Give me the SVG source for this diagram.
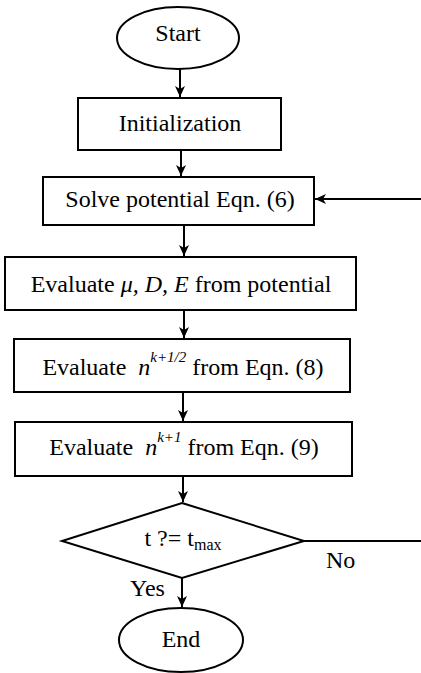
<svg xmlns="http://www.w3.org/2000/svg" width="421" height="673" viewBox="0 0 421 673" font-family="'Liberation Serif', 'Times New Roman', 'DejaVu Serif', serif">
<style>
.s{fill:#fff;stroke:#000;stroke-width:2}
.c{fill:none;stroke:#000;stroke-width:2}
text{font-family:'Liberation Serif','Times New Roman','DejaVu Serif',serif;font-size:24px;fill:#000}
.m{text-anchor:middle}
.i{font-style:italic}
</style>
<defs>
<marker id="ah" markerUnits="userSpaceOnUse" markerWidth="12" markerHeight="12" refX="11" refY="5.5" orient="auto">
<path d="M0,0.5 L11,5.5 L0,10.5 L3,5.5 z" fill="#000"/>
</marker>
</defs>
<g id="connectors">
<line class="c" x1="180" y1="69" x2="180" y2="97" marker-end="url(#ah)"/>
<line class="c" x1="181" y1="150" x2="181" y2="176" marker-end="url(#ah)"/>
<line class="c" x1="421" y1="199" x2="315" y2="199" marker-end="url(#ah)"/>
<line class="c" x1="184" y1="225" x2="184" y2="256" marker-end="url(#ah)"/>
<line class="c" x1="184" y1="310" x2="184" y2="338" marker-end="url(#ah)"/>
<line class="c" x1="183" y1="392" x2="183" y2="421" marker-end="url(#ah)"/>
<line class="c" x1="183" y1="476" x2="183" y2="502" marker-end="url(#ah)"/>
<line class="c" x1="304" y1="541" x2="421" y2="541"/>
<line class="c" x1="182" y1="578" x2="182" y2="607" marker-end="url(#ah)"/>
<text x="326" y="568">No</text>
<text x="130" y="596">Yes</text>
</g>
<g id="start">
<ellipse class="s" cx="178" cy="38" rx="61" ry="31"/>
<text class="m" x="178" y="41">Start</text>
</g>
<g id="init">
<rect class="s" x="78" y="98" width="203" height="52"/>
<text class="m" x="180" y="131">Initialization</text>
</g>
<g id="solve">
<rect class="s" x="43" y="177" width="271" height="48"/>
<text class="m" x="180" y="207">Solve potential Eqn. (6)</text>
</g>
<g id="evalmu">
<rect class="s" x="5" y="257" width="351" height="53"/>
<text class="m" x="181" y="292">Evaluate <tspan class="i">μ, D, E</tspan> from potential</text>
</g>
<g id="evalhalf">
<rect class="s" x="14" y="339" width="336" height="53"/>
<text class="m" x="183" y="375" xml:space="preserve">Evaluate  <tspan class="i">n</tspan><tspan class="i" font-size="15" dy="-13">k+1/2</tspan><tspan dy="13"> from Eqn. (8)</tspan></text>
</g>
<g id="evalfull">
<rect class="s" x="15" y="422" width="337" height="54"/>
<text class="m" x="184" y="455" xml:space="preserve">Evaluate  <tspan class="i">n</tspan><tspan class="i" font-size="15" dy="-13">k+1</tspan><tspan dy="13"> from Eqn. (9)</tspan></text>
</g>
<g id="decision">
<polygon class="s" points="182,503 304,541 182,578 62,541"/>
<text class="m" x="183" y="546">t ?= t<tspan font-size="16" dy="4">max</tspan></text>
</g>
<g id="end">
<ellipse class="s" cx="181" cy="640" rx="62" ry="32"/>
<text class="m" x="181" y="647">End</text>
</g>
</svg>
